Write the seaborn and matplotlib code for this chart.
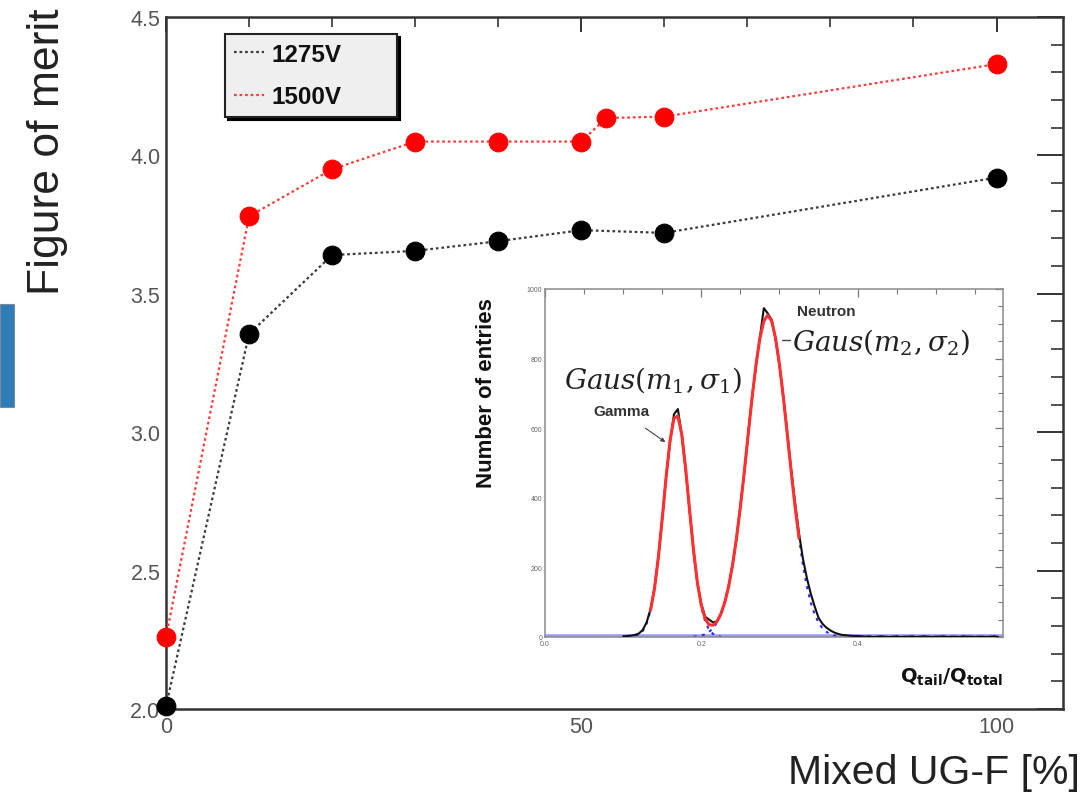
import numpy as np
import pandas as pd
import matplotlib
matplotlib.use("Agg")
import matplotlib.pyplot as plt
from matplotlib.lines import Line2D
from matplotlib.patches import Rectangle
import seaborn as sns

# ---------------- data ----------------
mix_1275 = [0, 10, 20, 30, 40, 50, 60, 100]
fom_1275 = [2.01, 3.355, 3.64, 3.655, 3.69, 3.73, 3.72, 3.92]
mix_1500 = [0, 10, 20, 30, 40, 50, 53, 60, 100]
fom_1500 = [2.26, 3.78, 3.95, 4.05, 4.05, 4.05, 4.135, 4.14, 4.33]
series_labels = ["1275V", "1500V"]

# inset histogram (Q_tail/Q_total), bins of width 0.005 starting at centre 0.100
hist_start = 0.100
hist_step = 0.005
hist_counts = [2, 3, 4, 6, 10, 20, 42, 80, 140, 230, 338, 462, 560, 640, 655,
               580, 480, 362, 250, 155, 95, 58, 50, 42, 45, 66, 100, 145, 210,
               282, 376, 472, 585, 690, 780, 862, 945, 930, 912, 855, 780, 690,
               585, 480, 385, 298, 225, 170, 125, 88, 55, 38, 27, 19, 13, 9, 6,
               5, 4, 3, 3, 2, 1, 2, 0, 1, 2, 1, 0, 1, 2, 0, 1, 1, 2, 0, 1, 2, 1,
               0, 1, 1, 2, 0, 1, 1, 0, 2, 1, 1, 0, 1, 1, 0, 1, 2, 0]
# fitted total (red), from centre 0.135
fit_start = 0.135
fit_vals = [76, 138, 228, 340, 460, 565, 629, 635, 582, 483, 365, 250, 156, 91,
            52, 35, 34, 44, 66, 99, 146, 207, 284, 374, 475, 583, 688, 783,
            859, 908, 925, 908, 859, 783, 688, 583, 475, 374, 284]
# gamma component (blue dotted), from 0.105
gam_start = 0.105
gam_vals = [0.3, 1, 3, 7, 17, 38, 76, 138, 228, 340, 460, 565, 629, 635, 582,
            483, 364, 249, 154, 87, 44, 20, 9, 3, 1]
# neutron component (blue dotted), from 0.190
neu_start = 0.190
neu_vals = [1, 2, 4, 8, 15, 25, 41, 65, 99, 146, 207, 284, 374, 475, 583, 688,
            783, 859, 908, 925, 908, 859, 783, 688, 583, 475, 374, 284, 207,
            146, 99, 65, 41, 25, 15, 8, 4, 2, 1]

# ---------------- figure ----------------
sns.set_theme(style="white")
plt.rcParams["font.family"] = ["Liberation Sans", "DejaVu Sans"]

W, H = 1086, 803
fig = plt.figure(figsize=(W / 100, H / 100), dpi=100)
fig.patch.set_facecolor("white")

ax = fig.add_axes([166 / W, 1 - 710 / H, (1063 - 166) / W, (710 - 18) / H])

df1 = pd.DataFrame({"x": mix_1275, "y": fom_1275})
df2 = pd.DataFrame({"x": mix_1500, "y": fom_1500})
sns.lineplot(data=df1, x="x", y="y", ax=ax, color="#3a3a3a",
             linestyle=(0, (1.2, 1.3)), linewidth=1.6, marker="o",
             markersize=13.5, markerfacecolor="black", markeredgecolor="black",
             clip_on=False, zorder=3)
sns.lineplot(data=df2, x="x", y="y", ax=ax, color="#ff3a3a",
             linestyle=(0, (1.2, 1.3)), linewidth=1.6, marker="o",
             markersize=13.5, markerfacecolor="#ff0000", markeredgecolor="#ff0000",
             clip_on=False, zorder=3)

ax.set_xlim(0, 108)
ax.set_ylim(2.0, 4.5)
ax.set_xlabel("")
ax.set_ylabel("")
ax.set_xticks([0, 50, 100])
ax.set_xticks(list(range(0, 101, 10)), minor=True)
ax.set_yticks([2.0, 2.5, 3.0, 3.5, 4.0, 4.5])
ax.set_yticks([round(2.0 + 0.1 * i, 1) for i in range(26)], minor=True)
ax.set_xticklabels(["0", "50", "100"])
ax.set_yticklabels(["2.0", "2.5", "3.0", "3.5", "4.0", "4.5"])
ax.tick_params(axis="both", which="both", direction="in", top=True, right=True,
               color="#333333", labelcolor="#555555", labelsize=15.5)
ax.tick_params(axis="x", which="major", length=11, width=1.4, pad=5)
ax.tick_params(axis="x", which="minor", length=7, width=1.2)
ax.tick_params(axis="y", which="major", length=19, width=1.4, pad=4)
ax.tick_params(axis="y", which="minor", length=9, width=1.2)
for s in ax.spines.values():
    s.set_color("#333333")
    s.set_linewidth(1.8)

handles = [Line2D([], [], color="#3a3a3a", linestyle=(0, (1.2, 1.3)), lw=1.6),
           Line2D([], [], color="#ff3a3a", linestyle=(0, (1.2, 1.3)), lw=1.6)]
leg = ax.legend(handles, series_labels, loc="upper left", mode="expand",
                bbox_to_anchor=((225 - 166) / 897, (710 - 125) / 692,
                                (397 - 225) / 897, (125 - 35) / 692),
                borderaxespad=0, frameon=True, fancybox=False,
                shadow={"color": "black", "alpha": 1.0},
                facecolor="#efefef", edgecolor="#222222", framealpha=1,
                prop={"weight": "bold", "size": 17.5}, handlelength=1.25,
                handletextpad=0.3, labelspacing=0.8, borderpad=0.36)
leg.get_frame().set_linewidth(1.5)
for t in leg.get_texts():
    t.set_color("#111111")

fig.text(47 / W, 1 - 152 / H, "Figure of merit", rotation=90, ha="center",
         va="center", fontsize=32, color="#222222")
fig.text(1080 / W, 1 - 773 / H, "Mixed UG-F [%]", ha="right", va="center",
         fontsize=29.5, color="#222222")

# blue slide fragment on the left edge
fig.patches.append(Rectangle((0, 1 - 408 / H), 14 / W, 103 / H,
                             transform=fig.transFigure, facecolor="#2e7db9",
                             edgecolor="#7a8a96", lw=0.8, zorder=5))

# ---------------- inset ----------------
axi = fig.add_axes([545 / W, 1 - 638 / H, (1003 - 545) / W, (638 - 290) / H])
axi.set_facecolor("white")
axi.set_zorder(5)

n_h = len(hist_counts)
centres = [hist_start + hist_step * i for i in range(n_h)]
axi.axhline(2, color="#9c9cff", lw=2.6, zorder=1)
sns.histplot(x=centres, weights=hist_counts,
             binwidth=hist_step,
             binrange=(hist_start - hist_step / 2, hist_start + hist_step * (n_h - 0.5)),
             element="poly", fill=False, color="#111111", linewidth=1.5, ax=axi,
             zorder=3)

gx = [gam_start + hist_step * i for i in range(len(gam_vals))]
nx = [neu_start + hist_step * i for i in range(len(neu_vals))]
fx = [fit_start + hist_step * i for i in range(len(fit_vals))]
sns.lineplot(x=gx, y=gam_vals, ax=axi, color="#2a2aff", lw=1.5,
             linestyle=(0, (1.5, 2.5)), zorder=2)
sns.lineplot(x=nx, y=neu_vals, ax=axi, color="#2a2aff", lw=1.5,
             linestyle=(0, (1.5, 2.5)), zorder=2)
sns.lineplot(x=fx, y=fit_vals, ax=axi, color="#ff3030", lw=2.2, zorder=4)

axi.set_xlim(0, 0.586)
axi.set_ylim(0, 1000)
axi.set_xlabel("")
axi.set_ylabel("Number of entries", fontsize=16, fontweight="bold",
               color="#111111", loc="top")
axi.yaxis.set_label_coords((497 - 545) / 458, 1 - (298 - 290) / 348)
axi.set_xticks([0.0, 0.2, 0.4])
axi.set_xticklabels(["0.0", "0.2", "0.4"])
axi.set_xticks([0.05 * i for i in range(12)], minor=True)
axi.set_yticks([0, 200, 400, 600, 800, 1000])
axi.set_yticklabels(["0", "200", "400", "600", "800", "1000"])
axi.set_yticks(list(range(0, 1001, 50)), minor=True)
axi.tick_params(axis="both", which="both", direction="in", top=True, right=True,
                color="#777777", labelcolor="#666666", labelsize=5, pad=2)
axi.tick_params(which="major", length=6, width=0.9)
axi.tick_params(which="minor", length=3.5, width=0.8)
for s in axi.spines.values():
    s.set_color("#8a8a8a")
    s.set_linewidth(1.1)

axi.text(0.586, -112, r"$\mathbf{Q}_{\mathbf{tail}}\mathbf{/Q}_{\mathbf{total}}$",
         ha="right", va="center", fontsize=14, color="#111111",
         math_fontfamily="dejavusans", clip_on=False)

axi.annotate("Gamma", xy=(0.154, 560), xytext=(0.098, 648),
             fontsize=11, fontweight="bold", color="#333333",
             ha="center", va="center",
             arrowprops=dict(arrowstyle="-|>", color="#444444", lw=0.8,
                             shrinkA=8, shrinkB=0, mutation_scale=6))
axi.text(0.36, 938, "Neutron", fontsize=11, fontweight="bold",
         color="#333333", ha="center", va="center")
axi.annotate("", xy=(0.304, 852), xytext=(0.314, 852),
             arrowprops=dict(arrowstyle="-", color="#444444", lw=1.0,
                             shrinkA=0, shrinkB=0))
axi.text(0.138, 741, r"$Gaus(m_1,\sigma_1)$", fontsize=20, color="#222222",
         ha="center", va="center", math_fontfamily="dejavuserif")
axi.text(0.316, 850, r"$Gaus(m_2,\sigma_2)$", fontsize=20, color="#222222",
         ha="left", va="center", math_fontfamily="dejavuserif")

fig.savefig("out.png", dpi=100, facecolor="white")
